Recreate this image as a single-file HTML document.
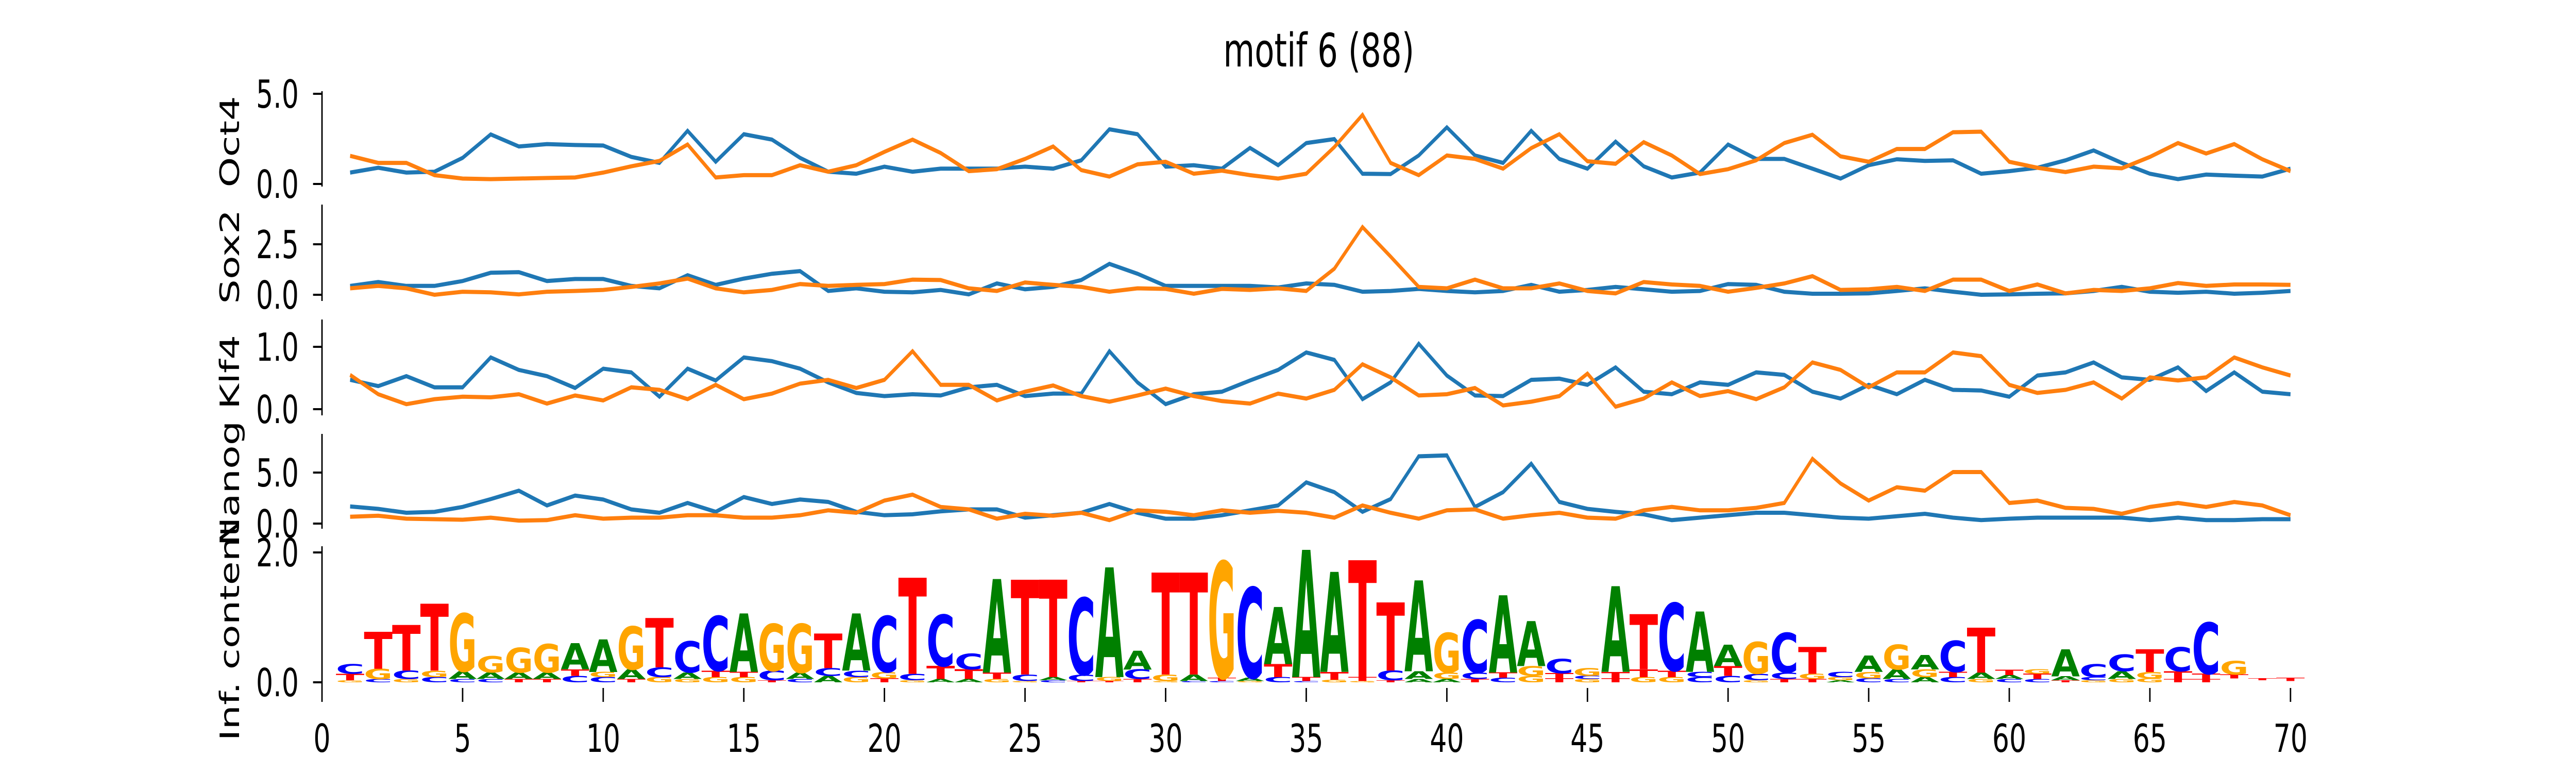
<!DOCTYPE html>
<html><head><meta charset="utf-8"><style>
html,body{margin:0;padding:0;background:#fff;width:100%;height:100%;overflow:hidden;}
svg{display:block;width:100vw;height:100vh;}
text{font-family:"DejaVu Sans","Liberation Sans",sans-serif;}
</style></head><body>
<svg id="chart" viewBox="0 0 7200 1500" preserveAspectRatio="none" xmlns="http://www.w3.org/2000/svg">
<text x="3686" y="129" font-size="90" text-anchor="middle">motif 6 (88)</text>
<g id="panels"></g>
</svg>
<script>
const positions = [];
for (let i = 1; i <= 70; i++) positions.push(i);
const xTicks = [0,5,10,15,20,25,30,35,40,45,50,55,60,65,70];

const oct4Blue = [0.63,0.9,0.63,0.68,1.45,2.75,2.08,2.21,2.16,2.13,1.5,1.17,2.95,1.23,2.76,2.46,1.45,0.68,0.57,0.96,0.68,0.85,0.85,0.85,0.96,0.85,1.31,3.03,2.76,0.96,1.04,0.85,2.0,1.04,2.27,2.49,0.57,0.55,1.58,3.14,1.58,1.17,2.95,1.39,0.85,2.35,0.98,0.36,0.63,2.19,1.39,1.39,0.85,0.30,1.04,1.37,1.28,1.31,0.57,0.71,0.9,1.31,1.86,1.17,0.57,0.27,0.52,0.46,0.41,0.85];
const oct4Orange = [1.56,1.17,1.17,0.49,0.3,0.27,0.3,0.33,0.36,0.63,0.98,1.28,2.19,0.36,0.49,0.49,1.04,0.68,1.04,1.78,2.46,1.72,0.71,0.82,1.39,2.08,0.77,0.41,1.09,1.23,0.57,0.74,0.49,0.3,0.57,2.05,3.83,1.17,0.49,1.58,1.39,0.85,1.99,2.76,1.26,1.12,2.32,1.58,0.55,0.82,1.31,2.27,2.73,1.53,1.23,1.94,1.94,2.87,2.9,1.23,0.9,0.66,0.96,0.87,1.5,2.27,1.69,2.21,1.37,0.71];
const sox2Blue = [0.44,0.63,0.44,0.44,0.68,1.09,1.12,0.68,0.78,0.78,0.44,0.32,0.97,0.49,0.8,1.04,1.17,0.19,0.32,0.15,0.12,0.24,0.02,0.56,0.27,0.39,0.73,1.53,1.04,0.44,0.44,0.44,0.44,0.36,0.56,0.49,0.15,0.19,0.29,0.19,0.12,0.19,0.49,0.15,0.24,0.39,0.27,0.15,0.19,0.53,0.49,0.15,0.05,0.05,0.07,0.19,0.32,0.15,0,0.02,0.05,0.07,0.19,0.39,0.15,0.1,0.15,0.05,0.1,0.19];
const sox2Orange = [0.32,0.44,0.32,0,0.15,0.12,0.02,0.15,0.19,0.24,0.39,0.56,0.8,0.32,0.12,0.24,0.53,0.44,0.49,0.53,0.75,0.73,0.32,0.19,0.61,0.49,0.39,0.15,0.32,0.29,0.05,0.29,0.24,0.32,0.19,1.29,3.35,1.89,0.39,0.32,0.75,0.32,0.32,0.56,0.19,0.07,0.63,0.51,0.44,0.15,0.34,0.56,0.92,0.24,0.27,0.39,0.19,0.75,0.75,0.19,0.51,0.07,0.24,0.19,0.32,0.58,0.44,0.51,0.51,0.49];
const klf4Blue = [0.47,0.37,0.53,0.35,0.35,0.83,0.63,0.53,0.34,0.65,0.59,0.2,0.65,0.46,0.83,0.77,0.65,0.43,0.26,0.21,0.24,0.22,0.35,0.39,0.21,0.25,0.25,0.93,0.43,0.08,0.24,0.28,0.46,0.63,0.91,0.79,0.16,0.43,1.05,0.54,0.22,0.21,0.47,0.49,0.39,0.67,0.28,0.24,0.43,0.39,0.59,0.55,0.28,0.17,0.39,0.24,0.47,0.31,0.3,0.2,0.54,0.59,0.75,0.51,0.47,0.67,0.29,0.59,0.28,0.24];
const klf4Orange = [0.55,0.24,0.08,0.16,0.2,0.19,0.24,0.09,0.22,0.14,0.35,0.31,0.16,0.39,0.16,0.25,0.41,0.47,0.34,0.47,0.93,0.39,0.39,0.14,0.28,0.38,0.21,0.12,0.22,0.33,0.21,0.13,0.09,0.25,0.17,0.31,0.72,0.51,0.22,0.24,0.34,0.06,0.12,0.21,0.57,0.04,0.17,0.43,0.21,0.29,0.16,0.35,0.75,0.63,0.35,0.59,0.59,0.91,0.85,0.39,0.26,0.31,0.43,0.17,0.51,0.46,0.51,0.83,0.67,0.54];
const nanogBlue = [1.68,1.44,1.06,1.15,1.63,2.4,3.22,1.78,2.74,2.36,1.39,1.06,2.02,1.15,2.6,1.92,2.36,2.12,1.15,0.82,0.91,1.2,1.39,1.39,0.58,0.82,1.06,1.92,1.06,0.48,0.48,0.82,1.3,1.78,4.04,3.08,1.15,2.4,6.59,6.68,1.63,3.08,5.87,2.12,1.44,1.15,0.91,0.34,0.58,0.82,1.06,1.06,0.82,0.58,0.48,0.72,0.96,0.58,0.34,0.48,0.58,0.58,0.58,0.58,0.34,0.58,0.34,0.34,0.43,0.43];
const nanogOrange = [0.67,0.77,0.48,0.43,0.38,0.58,0.29,0.34,0.82,0.48,0.58,0.58,0.82,0.82,0.58,0.58,0.82,1.3,1.06,2.26,2.84,1.63,1.39,0.48,0.96,0.77,1.06,0.34,1.3,1.15,0.82,1.3,1.06,1.25,1.06,0.58,1.78,1.06,0.48,1.3,1.39,0.48,0.82,1.06,0.58,0.48,1.3,1.63,1.3,1.3,1.54,2.02,6.35,3.94,2.26,3.56,3.22,5.05,5.05,2.02,2.26,1.54,1.44,0.96,1.63,2.02,1.63,2.11,1.78,0.82];

const logoTopLetter = "CTTTGGGGAAGTCCAGGTACTCCATTCAATTGCAAATTAGCAACGATCAAGCTCAGACTTGACCTCCG";
const logoTopH = [0.15,0.57,0.7,1.03,0.89,0.25,0.38,0.44,0.4,0.5,0.66,0.76,0.48,0.84,0.9,0.72,0.75,0.53,0.88,0.86,1.48,0.79,0.24,1.44,1.46,1.5,1.18,1.69,0.29,1.57,1.57,1.79,1.39,0.88,1.96,1.54,1.8,1.05,1.4,0.61,0.81,1.19,0.69,0.22,0.12,1.32,0.85,1.04,0.93,0.33,0.49,0.61,0.41,0.08,0.25,0.38,0.22,0.48,0.69,0.08,0.07,0.42,0.2,0.26,0.35,0.37,0.79,0.21,0.1,0.13];
const logoSecLetter = "TGCGAAAATGACATTCACCGCTTTCACGCGATATTTTCAGCTGTCTTTCTCCGGGAGTAATACAGTTTTTGC";
const logoSecH = [0.1,0.16,0.13,0.1,0.12,0.1,0.1,0.1,0.1,0.08,0.15,0.15,0.1,0.1,0.08,0.15,0.1,0.12,0.1,0.1,0.1,0.2,0.15,0.1,0.1,0.05,0.1,0.06,0.15,0.1,0.1,0.05,0.05,0.2,0.06,0.12,0.06,0.15,0.12,0.1,0.1,0.08,0.15,0.08,0.05,0.1,0.12,0.1,0.08,0.15,0.1,0.1,0.08,0.05,0.1,0.15,0.12,0.08,0.1,0.06,0.08,0.06,0.05,0.12,0.1,0.12,0.08,0.06,0.03,0.05];
const logoThirdLetter = "GCGCCCTTCCTGGGGTCAGTGAAGGCTTTGCCGCCGGTAATCGTGTGGCCGTTACCACGCCTGGGTT";
const logoThirdH = [0.03,0.05,0.05,0.08,0.05,0.05,0.05,0.05,0.1,0.08,0.05,0.08,0.05,0.08,0.08,0.03,0.05,0.1,0.08,0.06,0.03,0.05,0.05,0.05,0.02,0.03,0.02,0.02,0.05,0.02,0.02,0.02,0.02,0.08,0.02,0.04,0.02,0.03,0.05,0.05,0.05,0.07,0.1,0.06,0.05,0.06,0.08,0.08,0.08,0.1,0.03,0.05,0.05,0.03,0.06,0.05,0.08,0.08,0.05,0.05,0.05,0.03,0.03,0.05,0.06,0.05,0.05,0.06,0.03,0.02];

const oct4Ticks = [0, 5];
const sox2Ticks = [0, 2.5];
const klf4Ticks = [0, 1];
const nanogTicks = [0, 5];
const logoTicks = [0, 2];

const NS = "http://www.w3.org/2000/svg";
const root = document.getElementById("panels");
const X0 = 900, XK = 78.6;
function xPix(v){ return X0 + v * XK; }
function mk(tag, attrs, parent){
  const e = document.createElementNS(NS, tag);
  for (const k in attrs) e.setAttribute(k, attrs[k]);
  (parent || root).appendChild(e);
  return e;
}
const panels = [
  {key:"oct4", label:"Oct4", top:177, bottom:362, y0:357, k:35, ticks:oct4Ticks, lc:275, blue:oct4Blue, orange:oct4Orange},
  {key:"sox2", label:"Sox2", top:397, bottom:584, y0:572, k:39.2, ticks:sox2Ticks, lc:498, blue:sox2Blue, orange:sox2Orange},
  {key:"klf4", label:"Klf4", top:620, bottom:806, y0:794, k:121, ticks:klf4Ticks, lc:722, blue:klf4Blue, orange:klf4Orange},
  {key:"nanog", label:"Nanog", top:842, bottom:1026, y0:1016, k:19.8, ticks:nanogTicks, lc:938, blue:nanogBlue, orange:nanogOrange},
  {key:"logo", label:"Inf. content", top:1060, bottom:1335, y0:1324, k:126, ticks:logoTicks, lc:1225}
];
function axisCommon(p){
  const g = mk("g", {});
  
  
  const sp = mk("line", {x1:X0, x2:X0, y1:p.top, y2:p.bottom, stroke:"#000", "stroke-width":4}, g);
  
  
  p.ticks.forEach(t => {
    const y = p.y0 - t * p.k;
    const tl = mk("line", {x1:X0-25, x2:X0, y1:y, y2:y, stroke:"#000", "stroke-width":4}, g);
    
    
    const tx = mk("text", {x:835, y:y+27, "font-size":75, "text-anchor":"end"}, g);
    tx.textContent = t.toFixed(1);
    
    
  });
  const lb = mk("text", {transform:"translate(668," + p.lc + ") rotate(-90)", "font-size":75, "text-anchor":"middle"}, g);
  lb.textContent = p.label;
  
  
  return g;
}
panels.forEach(p => {
  const g = axisCommon(p);
  if (!p.blue) return;
  [[p.blue, "#1f77b4", "blue"], [p.orange, "#ff7f0e", "orange"]].forEach(([vals, col, nm]) => {
    const pts = vals.map((v, i) => xPix(positions[i]).toFixed(1) + "," + (p.y0 - v * p.k).toFixed(1)).join(" ");
    const pl = mk("polyline", {points:pts, fill:"none", stroke:col, "stroke-width":8, "stroke-linejoin":"miter", "stroke-miterlimit":4}, g);
    
    
  });
});
const lp = panels[4];
const colors = {A:"#008000", C:"#0000ff", G:"#ffa500", T:"#ff0000"};
const glyphW = {A:0.774, C:0.734, G:0.821, T:0.682};
const logoG = root.lastChild;
function drawLetter(ch, xc, yb, hBits){
  const hp = hBits * lp.k;
  if (hp <= 0) return;
  const sx = 80 / (glyphW[ch] * 100), sy = hp / 72.9;
  const t = mk("text", {transform:"translate(" + xc.toFixed(1) + "," + yb.toFixed(1) + ") scale(" + sx.toFixed(3) + "," + sy.toFixed(4) + ")", "font-size":100, "font-weight":"bold", "text-anchor":"middle", fill:colors[ch]}, logoG);
  t.textContent = ch;
  
  
}
positions.forEach((pos, i) => {
  const xc = xPix(pos);
  let yb = lp.y0;
  drawLetter(logoThirdLetter[i], xc, yb, logoThirdH[i]); yb -= logoThirdH[i] * lp.k;
  drawLetter(logoSecLetter[i], xc, yb, logoSecH[i]); yb -= logoSecH[i] * lp.k;
  drawLetter(logoTopLetter[i], xc, yb, logoTopH[i]);
});
xTicks.forEach(t => {
  const x = xPix(t);
  const tl = mk("line", {x1:x, x2:x, y1:1335, y2:1362, stroke:"#000", "stroke-width":4}, logoG);
  
  
  const tx = mk("text", {x:x, y:1459, "font-size":75, "text-anchor":"middle"}, logoG);
  tx.textContent = String(t);
  
  
});
</script>
</body></html>
